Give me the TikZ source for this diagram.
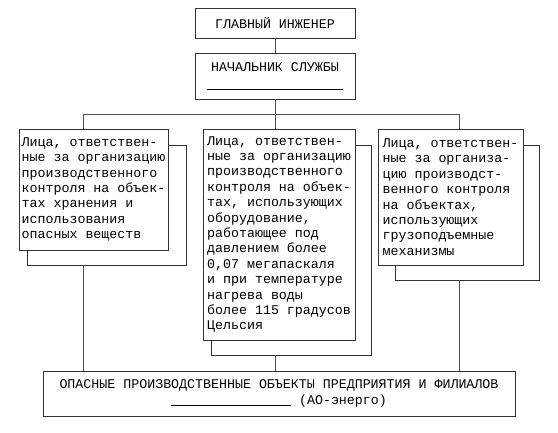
\documentclass[tikz,border=0pt]{standalone}
\usepackage{fontspec}
\setmainfont{Liberation Mono}
\usetikzlibrary{positioning,calc}

\tikzset{
  frame/.style={draw=black!80, line width=0.8pt},
  post/.style={frame, fill=white, align=left, inner sep=0pt,
    font=\fontsize{13.3}{15.4}\selectfont},
  back/.style={frame, inner sep=0pt},
  wire/.style={draw=black!70, line width=0.8pt}
}

\begin{document}
\begin{tikzpicture}[x=1pt,y=1pt]
    \useasboundingbox (0,0) rectangle (558,-433);
    % management
    \node[post, align=center, minimum width=160pt, minimum height=30pt] (chief) at (275,-23) {ГЛАВНЫЙ ИНЖЕНЕР};
    \node[post, align=center, minimum width=160pt, minimum height=46pt] (head) at (275,-76) {НАЧАЛЬНИК СЛУЖБЫ\\[2pt]\rule{136pt}{0.6pt}};
    \coordinate (bus) at (275,-114);
    \coordinate (lbus) at (83,-114);
    \coordinate (rbus) at (459,-114);
    % back frames
    \node[back, minimum width=159pt, minimum height=120pt] (lback) at (106.5,-205) {};
    \node[back, minimum width=160pt, minimum height=210pt] (mback) at (291,-250) {};
    \node[back, minimum width=144pt, minimum height=135pt] (rback) at (467,-212.5) {};
    % persons in charge
    \node[post, minimum width=149pt, minimum height=121pt] (lbox) at (93.5,-189.5) {Лица, ответствен-\\ные за организацию\\производственного\\контроля на объек-\\тах хранения и\\использования\\опасных веществ};
    \node[post, minimum width=152pt, minimum height=211pt] (mbox) at (279,-234.5) {Лица, ответствен-\\ные за организацию\\производственного\\контроля на объек-\\тах, использующих\\оборудование,\\работающее под\\давлением более\\0,07 мегапаскаля\\и при температуре\\нагрева воды\\более 115 градусов\\Цельсия};
    \node[post, minimum width=145pt, minimum height=136pt] (rbox) at (450.5,-197) {Лица, ответствен-\\ные за организа-\\цию производст-\\венного контроля\\на объектах,\\использующих\\грузоподъемные\\механизмы};
    % objects
    \node[post, align=center, minimum width=472pt, minimum height=45pt] (objects) at (279,-393.5) {ОПАСНЫЕ ПРОИЗВОДСТВЕННЫЕ ОБЪЕКТЫ ПРЕДПРИЯТИЯ И ФИЛИАЛОВ\\[0.6pt]\rule[-1.5pt]{120pt}{0.6pt} (АО-энерго)};

    \draw[wire] (chief) -- (head);
    \draw[wire] (head.south) -- (bus);
    \draw[wire] (lbus) -- (rbus);
    \draw[wire] (lbus) -- (lbus |- lbox.north);
    \draw[wire] (bus) -- (bus |- mbox.north);
    \draw[wire] (rbus) -- (rbus |- rbox.north);
    \draw[wire] (lbus |- lback.south) -- (lbus |- objects.north);
    \draw[wire] (bus |- mback.south) -- (bus |- objects.north);
    \draw[wire] (rbus |- rback.south) -- (rbus |- objects.north);
\end{tikzpicture}
\end{document}
